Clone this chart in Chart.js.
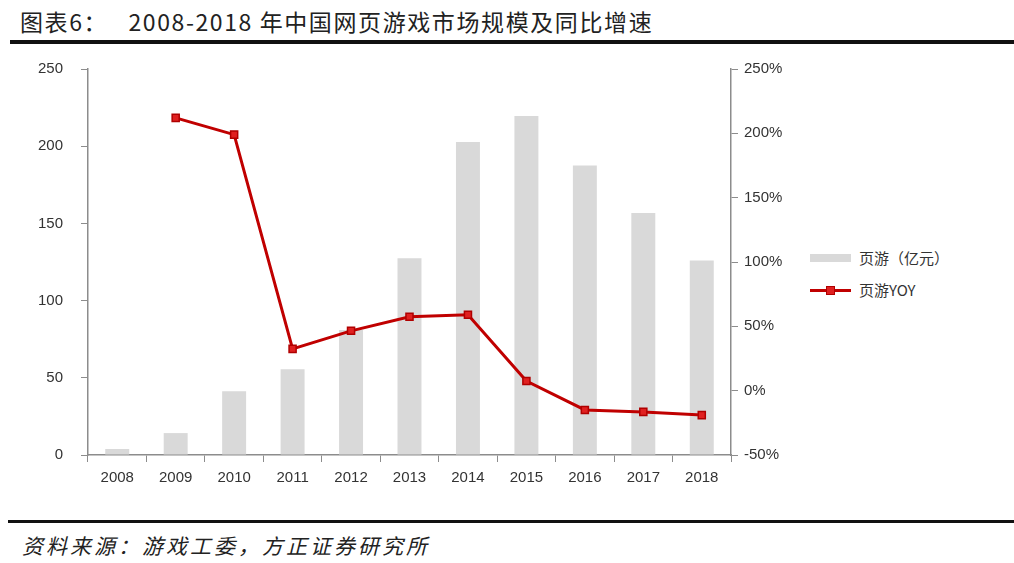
<!DOCTYPE html>
<html>
<head>
<meta charset="utf-8">
<script src="https://cdn.jsdelivr.net/npm/chart.js@4.4.0/dist/chart.umd.min.js"></script>
<style>
  body { margin: 0; width: 1014px; height: 563px; background: #fff; position: relative; overflow: hidden; font-family: "Noto Sans CJK SC", sans-serif; }
  #title { position: absolute; left: 20px; top: 4px; font-size: 23px; letter-spacing: 1.6px; color: #222; white-space: pre; }
  #ruleTop { position: absolute; left: 10px; right: 0; top: 40px; height: 4px; background: #111; }
  #ruleBottom { position: absolute; left: 8px; right: 0; top: 520px; height: 3px; background: #111; }
  #source { position: absolute; left: 22px; top: 530px; font-size: 21px; letter-spacing: 3px; font-style: italic; color: #222; }
  #wrap { position: absolute; left: 0; top: 42px; width: 800px; height: 458px; }
  .leg { position: absolute; left: 810px; font-size: 15px; color: #333; display: flex; align-items: center; }
  .leg .sw { width: 41px; margin-right: 8px; position: relative; }
</style>
</head>
<body>
<div id="title">图表6：   2008-2018 年中国网页游戏市场规模及同比增速</div>
<div id="ruleTop"></div>
<div id="wrap"><canvas id="chart"></canvas></div>
<div class="leg" style="top:247px;"><div class="sw" style="height:8px;background:#d9d9d9;"></div>页游（亿元）</div>
<div class="leg" style="top:279px;"><div class="sw" style="height:20px;">
  <div style="position:absolute;left:0;right:0;top:9px;height:3px;background:#c00000;"></div>
  <div style="position:absolute;left:16px;top:6px;width:7px;height:7px;background:#e02020;border:1.5px solid #b00000;"></div>
</div>页游YOY</div>
<div id="ruleBottom"></div>
<div id="source">资料来源：游戏工委，方正证券研究所</div>
<script>
const years = ['2008', '2009', '2010', '2011', '2012', '2013', '2014', '2015', '2016', '2017', '2018'];
const revenue = [3.9, 14.2, 41.3, 55.6, 81, 127.5, 202.7, 219.6, 187.5, 156.8, 126];
const yoy = [null, 212, 199, 32.5, 46.5, 57.5, 59, 7.5, -15, -16.5, -19];
const leftTicks = [0, 50, 100, 150, 200, 250];
const rightTicks = [-50, 0, 50, 100, 150, 200, 250];

const tickFont = { family: 'Arial, "Liberation Sans", sans-serif', size: 15 };
const axisGray = '#8c8c8c';

new Chart(document.getElementById('chart'), {
    data: {
        labels: years,
        datasets: [{
            type: 'line',
            label: '页游YOY',
            data: yoy,
            yAxisID: 'yRight',
            borderColor: '#c00000',
            borderWidth: 3,
            pointStyle: 'rect',
            pointRadius: 5,
            pointBackgroundColor: '#e02020',
            pointBorderColor: '#b00000',
            pointBorderWidth: 1.5,
            tension: 0,
            order: 0
        }, {
            type: 'bar',
            label: '页游（亿元）',
            data: revenue,
            yAxisID: 'yLeft',
            backgroundColor: '#d9d9d9',
            categoryPercentage: 1,
            barPercentage: 0.41,
            order: 1
        }]
    },
    options: {
        responsive: true,
        maintainAspectRatio: false,
        animation: false,
        layout: { padding: { top: 11, bottom: 0, left: 0, right: 0 } },
        plugins: { legend: { display: false }, tooltip: { enabled: false } },
        scales: {
            x: {
                grid: { display: true, drawOnChartArea: false, tickLength: 7, color: axisGray },
                border: { color: axisGray, width: 1.5 },
                ticks: { font: tickFont, color: '#333', padding: 7 },
                afterFit: s => { s.height = 45; }
            },
            yLeft: {
                position: 'left',
                min: 0, max: 250,
                afterBuildTicks: s => { s.ticks = leftTicks.map(v => ({ value: v })); },
                grid: { display: true, drawOnChartArea: false, tickLength: 7, color: axisGray },
                border: { color: axisGray, width: 1.5 },
                ticks: { font: tickFont, color: '#333', padding: 18 },
                afterFit: s => { s.width = 88; }
            },
            yRight: {
                position: 'right',
                min: -50, max: 250,
                afterBuildTicks: s => { s.ticks = rightTicks.map(v => ({ value: v })); },
                grid: { display: true, drawOnChartArea: false, tickLength: 7, color: axisGray },
                border: { color: axisGray, width: 1.5 },
                ticks: { font: tickFont, color: '#333', padding: 6, callback: v => v + '%' },
                afterFit: s => { s.width = 69; }
            }
        }
    }
});
</script>
</body>
</html>
